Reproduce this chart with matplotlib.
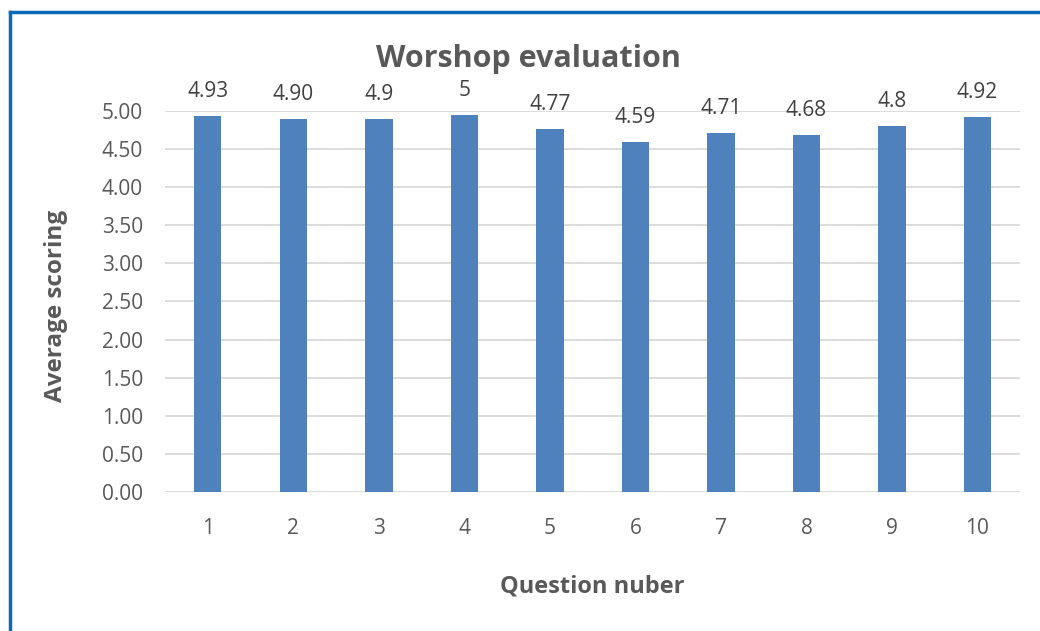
import numpy as np
import matplotlib.pyplot as plt
from matplotlib.lines import Line2D

questions = ['1', '2', '3', '4', '5', '6', '7', '8', '9', '10']
scores = [4.93, 4.90, 4.90, 4.95, 4.77, 4.59, 4.71, 4.68, 4.80, 4.92]
score_labels = ['4.93', '4.90', '4.9', '5', '4.77', '4.59', '4.71', '4.68', '4.8', '4.92']
yticks = np.arange(0, 5.01, 0.5)

plt.rcParams['font.family'] = ['Open Sans', 'DejaVu Sans']

fig = plt.figure(figsize=(10.4, 6.31), dpi=100)
ax = fig.add_axes([0.1587, 0.2203, 0.8223, 0.6038])

x = np.arange(len(questions))
ax.bar(x, scores, width=0.32, color='#4f81bd', zorder=3)

for xi, val, lab in zip(x, scores, score_labels):
    ax.annotate(lab, (xi, val), xytext=(0, 10), textcoords='offset points',
                ha='center', va='bottom', fontsize=15, color='#404040')

ax.set_xlim(-0.5, len(questions) - 0.5)
ax.set_ylim(0, 5)
ax.set_yticks(yticks)
ax.set_yticklabels(['%.2f' % v for v in yticks])
ax.set_xticks(x)
ax.set_xticklabels(questions)
ax.tick_params(axis='both', length=0, labelsize=15, labelcolor='#595959')
ax.tick_params(axis='x', pad=19)
ax.tick_params(axis='y', pad=16)
ax.yaxis.grid(True, color='#d9d9d9', linewidth=1.3, zorder=0)
ax.set_axisbelow(True)
for s in ax.spines.values():
    s.set_visible(False)

fig.text(0.508, 0.907, 'Worshop evaluation', ha='center', va='center',
         fontsize=22, fontweight='bold', color='#595959')
fig.text(0.054, 0.515, 'Average scoring', ha='center', va='center', rotation=90,
         fontsize=17.5, fontweight='bold', color='#595959')
fig.text(0.569, 0.071, 'Question nuber', ha='center', va='center',
         fontsize=17, fontweight='bold', color='#595959')

# blue frame edges (left and top)
fig.add_artist(Line2D([0.0096, 0.0096], [0, 0.981], color='#0a6ab8', linewidth=2.5,
                      transform=fig.transFigure))
fig.add_artist(Line2D([0.0096, 1.0], [0.981, 0.981], color='#0a6ab8', linewidth=2.5,
                      transform=fig.transFigure))

fig.savefig('out.png', dpi=100)
